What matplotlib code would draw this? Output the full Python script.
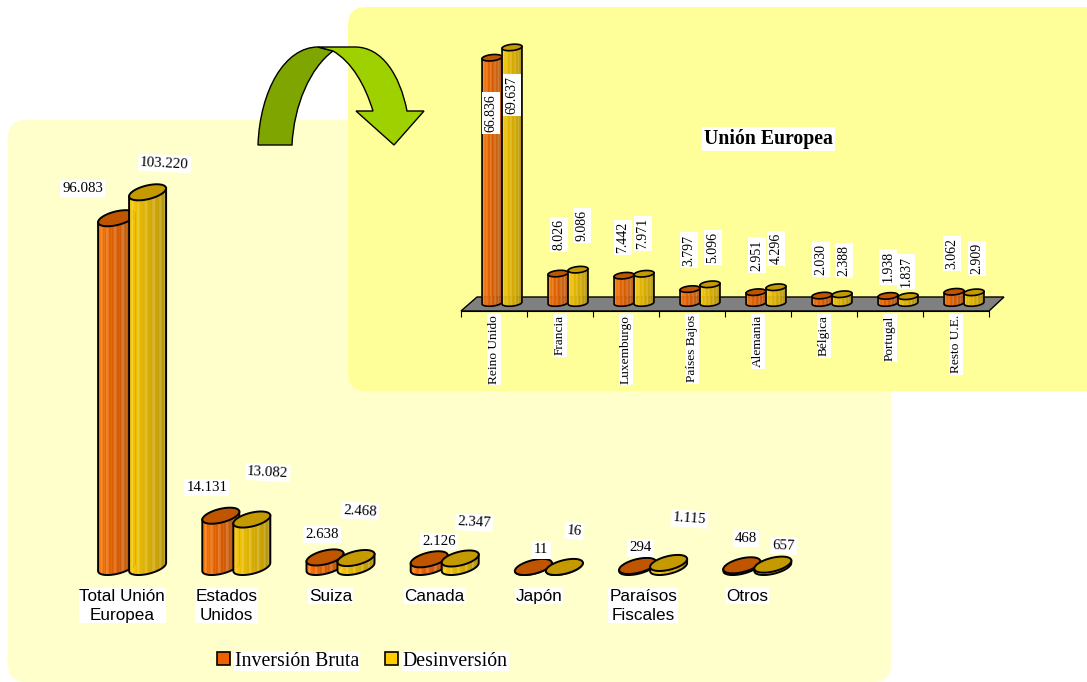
#!/usr/bin/env python
import numpy as np
import matplotlib
matplotlib.use('Agg')
import matplotlib.pyplot as plt
from matplotlib.colors import LinearSegmentedColormap
from matplotlib.patches import FancyBboxPatch, PathPatch, Patch, Polygon
from matplotlib.path import Path

# data
total_labels = ['Total Unión\nEuropea', 'Estados\nUnidos', 'Suiza', 'Canada', 'Japón', 'Paraísos\nFiscales', 'Otros']
total_bruta = [96083, 14131, 2638, 2126, 11, 294, 468]
total_desinv = [103220, 13082, 2468, 2347, 16, 1115, 657]

ue_labels = ['Reino Unido', 'Francia', 'Luxemburgo', 'Países Bajos', 'Alemania', 'Bélgica', 'Portugal', 'Resto U.E.']
ue_bruta = [66836, 8026, 7442, 3797, 2951, 2030, 1938, 3062]
ue_desinv = [69637, 9086, 7971, 5096, 4296, 2388, 1837, 2909]

# where the value labels sit relative to the bar top, in pixels
total_off_bruta = [(-34, 30), (-14, 28), (-3, 23), (10, 18), (8, 17), (3, 18), (4, 27)]
total_off_desinv = [(17, 29), (16, 47), (4, 47), (14, 36), (10, 36), (21, 44), (11, 19)]
total_rot_desinv = [-3, -3, -3, -3, -5, -4, -2]
ue_off_bruta = [(-1, -55), (1, 39), (-1, 38), (-1, 39), (1, 37), (-1, 36), (0, 29), (-2, 38)]
ue_off_desinv = [(0, -48), (4, 44), (-1, 40), (3, 37), (0, 39), (2, 34), (-2, 25), (3, 34)]

W, H = 1087, 682
ORANGE = LinearSegmentedColormap.from_list('o', ['#ff8a20', '#f06a00', '#d85a00', '#c05c10', '#a85010'])
YELLOW = LinearSegmentedColormap.from_list('y', ['#ffd820', '#f0c000', '#d8ac00', '#c09c08', '#a08810'])
TOP_ORANGE = '#c05500'
TOP_YELLOW = '#c49a00'


def px_box(left, top, right, bottom):
    return [left / W, 1 - bottom / H, (right - left) / W, (bottom - top) / H]


def ellipse(t, a, b, phi):
    dx = a * np.cos(t) * np.cos(phi) - b * np.sin(t) * np.sin(phi)
    dy = a * np.cos(t) * np.sin(phi) + b * np.sin(t) * np.cos(phi)
    return dx, dy


def cylinder(ax, x, value, cmap, top_color, a, b, phi_deg, lw):
    # a, b are pixels: turn them into data units with the axes scale
    box = ax.get_window_extent()
    sx = (ax.get_xlim()[1] - ax.get_xlim()[0]) / box.width
    sy = (ax.get_ylim()[1] - ax.get_ylim()[0]) / box.height
    phi = np.radians(phi_deg)
    t0 = np.arctan(-(b / a) * np.tan(phi))
    n = 22
    ts = np.linspace(t0 - np.pi, t0, n + 1)
    dx, dy = ellipse(ts, a, b, phi)
    xs = x + dx * sx
    low = dy * sy
    high = value + dy * sy
    for i in range(n):
        pos = i / (n - 1.0)
        col = np.array(cmap(pos))
        if i % 3 == 1:
            col[:3] = col[:3] + (1 - col[:3]) * 0.18
        ax.fill([xs[i], xs[i + 1], xs[i + 1], xs[i]],
                [low[i], low[i + 1], high[i + 1], high[i]],
                color=col, lw=0.3, clip_on=False, zorder=3)
    # outline of the body
    ax.plot(np.r_[xs[0], xs, xs[-1]], np.r_[high[0], low, high[-1]], color='black', lw=lw,
            clip_on=False, zorder=3, solid_joinstyle='round')
    tt = np.linspace(0, 2 * np.pi, 80)
    ex, ey = ellipse(tt, a, b, phi)
    ax.fill(x + ex * sx, value + ey * sy, facecolor=top_color, edgecolor='black', lw=lw,
            clip_on=False, zorder=3)


def value_text(ax, x, value, off, rotation, size):
    txt = '{:,}'.format(value).replace(',', '.')
    ax.annotate(txt, xy=(x, value), xytext=off, textcoords='offset pixels', ha='center', va='center',
                rotation=rotation, fontsize=size, family='Liberation Serif', zorder=5,
                annotation_clip=False, bbox=dict(fc='white', ec='none', pad=1.5))


fig = plt.figure(figsize=(W / 100.0, H / 100.0), dpi=100, facecolor='white')

# background panels, arrow and floor, in pixel coordinates
bg = fig.add_axes([0, 0, 1, 1], zorder=0)
bg.set_xlim(0, W)
bg.set_ylim(H, 0)
bg.axis('off')
bg.add_patch(FancyBboxPatch((26, 138), 847, 526, boxstyle='round,pad=18,rounding_size=18', fc='#ffffcc', ec='none'))
bg.add_patch(FancyBboxPatch((366, 25), 740, 348, boxstyle='round,pad=18,rounding_size=18', fc='#ffff99', ec='none'))

dark = Path([(258, 145), (260, 90), (285, 47), (318, 47),
             (333, 51), (310, 68), (294, 105), (292, 145), (258, 145)],
            [Path.MOVETO, Path.CURVE4, Path.CURVE4, Path.CURVE4,
             Path.LINETO, Path.CURVE4, Path.CURVE4, Path.CURVE4, Path.CLOSEPOLY])
bg.add_patch(PathPatch(dark, fc='#7fa500', ec='black', lw=1.0))
light = Path([(318, 47), (355, 47), (382, 47), (400, 75), (407, 111), (424, 111), (394, 145), (356, 111),
              (373, 111), (365, 85), (352, 62), (333, 51), (318, 47)],
             [Path.MOVETO, Path.LINETO, Path.CURVE4, Path.CURVE4, Path.CURVE4, Path.LINETO, Path.LINETO, Path.LINETO,
              Path.LINETO, Path.CURVE4, Path.CURVE4, Path.CURVE4, Path.CLOSEPOLY])
bg.add_patch(PathPatch(light, fc='#9fd000', ec='black', lw=1.0))
bg.add_patch(Polygon([(461, 311), (989, 311), (1004, 297), (477, 297)], closed=True, fc='#808080', ec='black', lw=1.0))

# left chart
px_left = 0.00363
ax1 = fig.add_axes(px_box(70, 67, 799.4, 567), zorder=1)
ax1.set_xlim(-0.5, 6.5)
ax1.set_ylim(0, 500 / px_left)
ax1.patch.set_alpha(0)
for s in ax1.spines.values():
    s.set_visible(False)
ax1.set_yticks([])
ax1.set_xticks(range(len(total_labels)))
ax1.set_xticklabels(total_labels, fontsize=12.3, family='Liberation Sans', linespacing=1.35)
ax1.tick_params(axis='x', length=0, pad=15.5)
for lab in ax1.get_xticklabels():
    lab.set_bbox(dict(fc='white', ec='none', pad=0.5))
    lab.set_zorder(5)

shift = 10 / 104.2
half = 15.5 / 104.2
for i in range(len(total_labels)):
    cylinder(ax1, i + shift - half, total_bruta[i], ORANGE, TOP_ORANGE, 19, 6.8, 14, 1.4)
    cylinder(ax1, i + shift + half, total_desinv[i], YELLOW, TOP_YELLOW, 19, 6.8, 14, 1.4)
    value_text(ax1, i + shift - half, total_bruta[i], total_off_bruta[i], 0, 10.7)
    value_text(ax1, i + shift + half, total_desinv[i], total_off_desinv[i], total_rot_desinv[i], 10.7)

# right chart
px_right = 0.00367
ax2 = fig.add_axes(px_box(461, 11, 989, 311), zorder=2)
ax2.set_xlim(0, 8)
ax2.set_ylim(-8 / px_right, 292 / px_right)
ax2.patch.set_alpha(0)
for name in ['top', 'left', 'right']:
    ax2.spines[name].set_visible(False)
ax2.set_yticks([])
ax2.set_xticks(range(9))
ax2.set_xticklabels([])
ax2.set_xticks(np.arange(8) + 0.5, minor=True)
ax2.set_xticklabels(ue_labels, minor=True, rotation=90, fontsize=9.6, family='Liberation Serif')
ax2.tick_params(axis='x', which='major', length=4, width=0.8)
ax2.tick_params(axis='x', which='minor', length=0, pad=3)
for lab in ax2.get_xticklabels(minor=True):
    lab.set_bbox(dict(fc='white', ec='none', pad=1))

shift = 8 / 66.0
half = 10 / 66.0
for i in range(len(ue_labels)):
    cylinder(ax2, i + 0.5 + shift - half, ue_bruta[i], ORANGE, TOP_ORANGE, 10, 3.1, 6, 1.2)
    cylinder(ax2, i + 0.5 + shift + half, ue_desinv[i], YELLOW, TOP_YELLOW, 10, 3.1, 6, 1.2)
    value_text(ax2, i + 0.5 + shift - half, ue_bruta[i], ue_off_bruta[i], 90, 10)
    value_text(ax2, i + 0.5 + shift + half, ue_desinv[i], ue_off_desinv[i], 90, 10)

fig.text(768.5 / W, 1 - 139 / H, 'Unión Europea', ha='center', va='center', fontsize=14.2, fontweight='bold',
         family='Liberation Serif', zorder=6, bbox=dict(fc='white', ec='none', pad=1.5))

handles = [Patch(fc='#f06000', ec='black', lw=1.2), Patch(fc='#ffcc00', ec='black', lw=1.2)]
leg = fig.legend(handles, ['Inversión Bruta', 'Desinversión'], ncol=2, frameon=False, loc='center',
                 bbox_to_anchor=(362.5 / W, 1 - 661 / H), handlelength=0.65, handleheight=0.65,
                 handletextpad=0.25, columnspacing=1.3,
                 prop={'family': 'Liberation Serif', 'size': 14.3})
for t in leg.get_texts():
    t.set_bbox(dict(fc='white', ec='none', pad=0.5))

fig.savefig('out.png', dpi=100)
